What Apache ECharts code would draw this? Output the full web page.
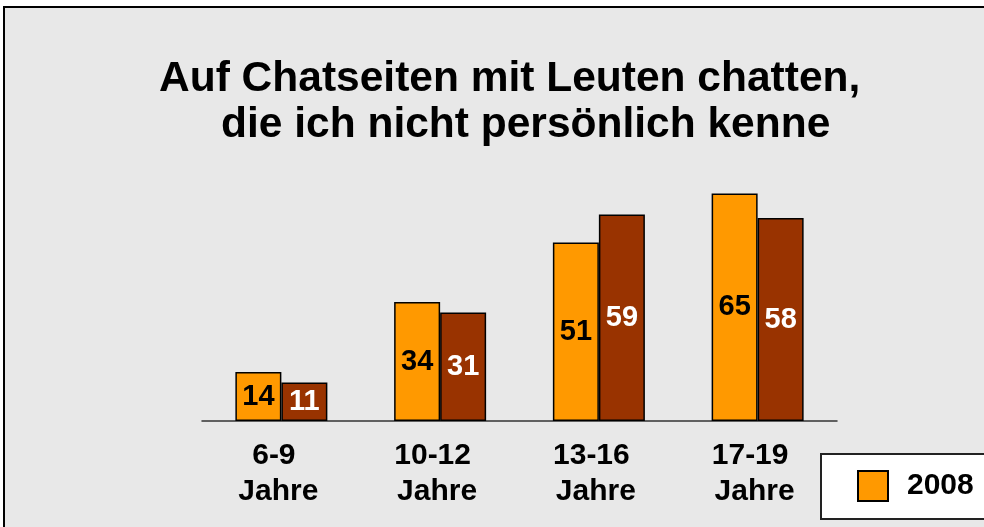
<!DOCTYPE html>
<html>
<head>
<meta charset="utf-8">
<script src="https://cdn.jsdelivr.net/npm/echarts@6/dist/echarts.min.js"></script>
<style>
html,body{margin:0;padding:0;background:#fff;}
#chart{width:984px;height:527px;}
</style>
</head>
<body>
<div id="chart"></div>
<script>
var categories = ['6-9\nJahre', '10-12\nJahre', '13-16\nJahre', '17-19\nJahre'];
var series2008 = [14, 34, 51, 65];
var seriesOther = [11, 31, 59, 58];
var titleLine1 = 'Auf Chatseiten mit Leuten chatten,';
var titleLine2 = 'die ich nicht persönlich kenne';

var FONT = 'Arial, "Liberation Sans", Helvetica, sans-serif';
var chart = echarts.init(document.getElementById('chart'));
chart.setOption({
  animation: false,
  graphic: [{
    type: 'rect', z: -10, silent: true,
    shape: {x: 4, y: 7, width: 1000, height: 540},
    style: {fill: '#e8e8e8', stroke: '#000', lineWidth: 2}
  }],
  title: [
    {text: titleLine1, left: 159, top: 56, padding: 0,
     textStyle: {fontFamily: FONT, fontSize: 42.5, fontWeight: 'bold', color: '#000', lineHeight: 46}},
    {text: titleLine2, left: 221, top: 102, padding: 0,
     textStyle: {fontFamily: FONT, fontSize: 42.5, fontWeight: 'bold', color: '#000', lineHeight: 46}}
  ],
  legend: {
    data: ['2008'],
    left: 821, top: 454,
    orient: 'horizontal',
    backgroundColor: '#fff',
    borderColor: '#222', borderWidth: 2, borderRadius: 0,
    padding: [16, 60, 17, 36],
    itemWidth: 30, itemHeight: 30,
    icon: 'rect',
    textStyle: {fontFamily: FONT, fontSize: 30, fontWeight: 'bold', color: '#000', padding: [0, 0, 0, 14]}
  },
  grid: {left: 202, right: 147, top: 141, bottom: 106},
  xAxis: {
    type: 'category', data: categories,
    axisLine: {lineStyle: {color: '#333', width: 1.5}},
    axisTick: {show: false},
    axisLabel: {
      interval: 0, margin: 17, color: '#000',
      formatter: function (v) {
        var p = v.split('\n');
        return '{a|' + p[0] + '}\n{b|' + p[1] + '}';
      },
      rich: {
        a: {fontFamily: FONT, fontSize: 30, fontWeight: 'bold', color: '#000', lineHeight: 36, padding: [0, 15, 0, 0]},
        b: {fontFamily: FONT, fontSize: 30, fontWeight: 'bold', color: '#000', lineHeight: 36, padding: [0, 6, 0, 0]}
      }
    }
  },
  yAxis: {type: 'value', min: 0, max: 80, show: false, splitLine: {show: false}},
  series: [
    {name: '2008', type: 'bar', data: series2008, barWidth: 46, barGap: '0%',
     itemStyle: {color: '#ff9900', borderColor: '#000', borderWidth: 1.5},
     label: {show: true, position: 'inside', fontFamily: FONT, fontSize: 29, fontWeight: 'bold', color: '#000'}},
    {name: 'Vergleich', type: 'bar', data: seriesOther, barWidth: 46, barGap: '0%',
     itemStyle: {color: '#993300', borderColor: '#000', borderWidth: 1.5},
     label: {show: true, position: 'inside', fontFamily: FONT, fontSize: 29, fontWeight: 'bold', color: '#fff'}}
  ]
});
</script>
</body>
</html>
